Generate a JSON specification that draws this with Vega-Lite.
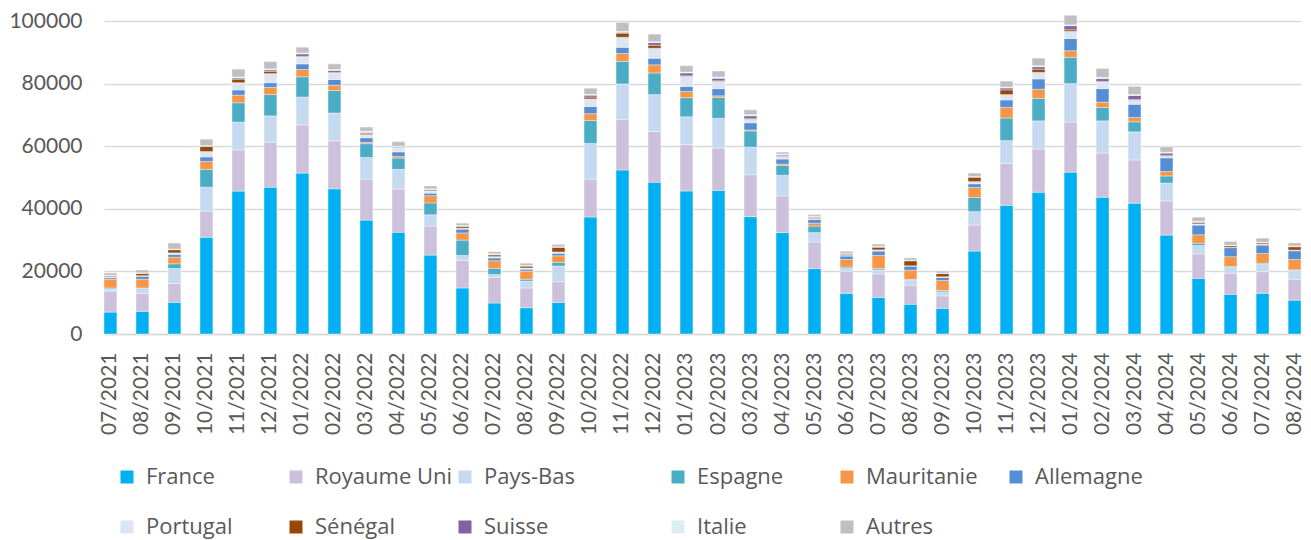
{
  "$schema": "https://vega.github.io/schema/vega-lite/v6.json",
  "width": 1197,
  "height": 313,
  "autosize": "none",
  "padding": {"left": 104, "top": 21, "right": 10, "bottom": 206},
  "background": "white",
  "config": {
    "view": {"stroke": null},
    "font": "Lato",
    "text": {"font": "Lato"}
  },
  "datasets": {
    "rangs": [
      {"pays":"France","rang":1},{"pays":"Royaume Uni","rang":2},{"pays":"Pays-Bas","rang":3},{"pays":"Espagne","rang":4},
      {"pays":"Mauritanie","rang":5},{"pays":"Allemagne","rang":6},{"pays":"Portugal","rang":7},{"pays":"Sénégal","rang":8},
      {"pays":"Suisse","rang":9},{"pays":"Italie","rang":10},{"pays":"Autres","rang":11}
    ]
  },
  "data": {
    "values": [
      {"mois":"07/2021","France":7000,"Royaume Uni":6700,"Pays-Bas":700,"Espagne":300,"Mauritanie":2800,"Allemagne":500,"Portugal":300,"Sénégal":300,"Suisse":100,"Italie":100,"Autres":700},
      {"mois":"08/2021","France":7250,"Royaume Uni":5750,"Pays-Bas":1500,"Espagne":200,"Mauritanie":2800,"Allemagne":950,"Portugal":200,"Sénégal":700,"Suisse":100,"Italie":100,"Autres":870},
      {"mois":"09/2021","France":10130,"Royaume Uni":6000,"Pays-Bas":4800,"Espagne":1500,"Mauritanie":2100,"Allemagne":900,"Portugal":500,"Sénégal":1000,"Suisse":100,"Italie":100,"Autres":1900},
      {"mois":"10/2021","France":30900,"Royaume Uni":8350,"Pays-Bas":7650,"Espagne":5700,"Mauritanie":2500,"Allemagne":1500,"Portugal":1700,"Sénégal":1600,"Suisse":200,"Italie":100,"Autres":2000},
      {"mois":"11/2021","France":45650,"Royaume Uni":13150,"Pays-Bas":8900,"Espagne":6200,"Mauritanie":2400,"Allemagne":1700,"Portugal":2300,"Sénégal":1100,"Suisse":400,"Italie":300,"Autres":2500},
      {"mois":"12/2021","France":46900,"Royaume Uni":14400,"Pays-Bas":8400,"Espagne":6800,"Mauritanie":2300,"Allemagne":1500,"Portugal":2900,"Sénégal":700,"Suisse":500,"Italie":300,"Autres":2300},
      {"mois":"01/2022","France":51400,"Royaume Uni":15400,"Pays-Bas":8900,"Espagne":6500,"Mauritanie":2300,"Allemagne":1800,"Portugal":2200,"Sénégal":200,"Suisse":800,"Italie":300,"Autres":1800},
      {"mois":"02/2022","France":46400,"Royaume Uni":15300,"Pays-Bas":8900,"Espagne":7200,"Mauritanie":1700,"Allemagne":1800,"Portugal":2100,"Sénégal":200,"Suisse":600,"Italie":300,"Autres":1800},
      {"mois":"03/2022","France":36400,"Royaume Uni":13100,"Pays-Bas":6900,"Espagne":4400,"Mauritanie":400,"Allemagne":1500,"Portugal":1000,"Sénégal":300,"Suisse":400,"Italie":400,"Autres":1300},
      {"mois":"04/2022","France":32500,"Royaume Uni":13800,"Pays-Bas":6300,"Espagne":3600,"Mauritanie":500,"Allemagne":1500,"Portugal":1200,"Sénégal":200,"Suisse":200,"Italie":200,"Autres":1400},
      {"mois":"05/2022","France":25200,"Royaume Uni":9300,"Pays-Bas":3600,"Espagne":3800,"Mauritanie":2300,"Allemagne":800,"Portugal":700,"Sénégal":300,"Suisse":200,"Italie":200,"Autres":900},
      {"mois":"06/2022","France":14700,"Royaume Uni":8800,"Pays-Bas":1600,"Espagne":4900,"Mauritanie":2300,"Allemagne":1200,"Portugal":300,"Sénégal":500,"Suisse":200,"Italie":200,"Autres":700},
      {"mois":"07/2022","France":9900,"Royaume Uni":8200,"Pays-Bas":900,"Espagne":2000,"Mauritanie":2400,"Allemagne":900,"Portugal":500,"Sénégal":500,"Suisse":100,"Italie":200,"Autres":700},
      {"mois":"08/2022","France":8400,"Royaume Uni":6300,"Pays-Bas":2200,"Espagne":600,"Mauritanie":2600,"Allemagne":600,"Portugal":400,"Sénégal":600,"Suisse":100,"Italie":100,"Autres":700},
      {"mois":"09/2022","France":10100,"Royaume Uni":6600,"Pays-Bas":5000,"Espagne":1200,"Mauritanie":2100,"Allemagne":800,"Portugal":400,"Sénégal":1500,"Suisse":100,"Italie":100,"Autres":700},
      {"mois":"10/2022","France":37400,"Royaume Uni":12100,"Pays-Bas":11400,"Espagne":7300,"Mauritanie":2200,"Allemagne":2300,"Portugal":2400,"Sénégal":600,"Suisse":600,"Italie":300,"Autres":1900},
      {"mois":"11/2022","France":52400,"Royaume Uni":16100,"Pays-Bas":11400,"Espagne":7200,"Mauritanie":2500,"Allemagne":2000,"Portugal":3200,"Sénégal":1300,"Suisse":300,"Italie":300,"Autres":2800},
      {"mois":"12/2022","France":48500,"Royaume Uni":16200,"Pays-Bas":11800,"Espagne":6900,"Mauritanie":2600,"Allemagne":2100,"Portugal":3200,"Sénégal":900,"Suisse":900,"Italie":300,"Autres":2400},
      {"mois":"01/2023","France":45700,"Royaume Uni":14800,"Pays-Bas":8900,"Espagne":6100,"Mauritanie":2000,"Allemagne":1600,"Portugal":3200,"Sénégal":200,"Suisse":900,"Italie":300,"Autres":2000},
      {"mois":"02/2023","France":45900,"Royaume Uni":13500,"Pays-Bas":9500,"Espagne":6700,"Mauritanie":500,"Allemagne":2300,"Portugal":2300,"Sénégal":200,"Suisse":800,"Italie":400,"Autres":1900},
      {"mois":"03/2023","France":37500,"Royaume Uni":13400,"Pays-Bas":8800,"Espagne":5200,"Mauritanie":300,"Allemagne":2300,"Portugal":1100,"Sénégal":200,"Suisse":900,"Italie":400,"Autres":1500},
      {"mois":"04/2023","France":32400,"Royaume Uni":11700,"Pays-Bas":6600,"Espagne":3200,"Mauritanie":400,"Allemagne":1600,"Portugal":800,"Sénégal":200,"Suisse":300,"Italie":300,"Autres":600},
      {"mois":"05/2023","France":20900,"Royaume Uni":8500,"Pays-Bas":3000,"Espagne":2100,"Mauritanie":900,"Allemagne":1200,"Portugal":300,"Sénégal":300,"Suisse":200,"Italie":200,"Autres":500},
      {"mois":"06/2023","France":13000,"Royaume Uni":7100,"Pays-Bas":900,"Espagne":400,"Mauritanie":2400,"Allemagne":1100,"Portugal":200,"Sénégal":400,"Suisse":100,"Italie":100,"Autres":700},
      {"mois":"07/2023","France":11700,"Royaume Uni":7500,"Pays-Bas":1300,"Espagne":400,"Mauritanie":4200,"Allemagne":1400,"Portugal":400,"Sénégal":800,"Suisse":200,"Italie":100,"Autres":700},
      {"mois":"08/2023","France":9500,"Royaume Uni":6100,"Pays-Bas":1700,"Espagne":200,"Mauritanie":2900,"Allemagne":1300,"Portugal":100,"Sénégal":1600,"Suisse":100,"Italie":100,"Autres":700},
      {"mois":"09/2023","France":8200,"Royaume Uni":4000,"Pays-Bas":1300,"Espagne":400,"Mauritanie":3200,"Allemagne":1000,"Portugal":200,"Sénégal":1000,"Suisse":100,"Italie":100,"Autres":600},
      {"mois":"10/2023","France":26500,"Royaume Uni":8300,"Pays-Bas":4300,"Espagne":4500,"Mauritanie":3200,"Allemagne":1200,"Portugal":700,"Sénégal":1400,"Suisse":100,"Italie":100,"Autres":1100},
      {"mois":"11/2023","France":41100,"Royaume Uni":13400,"Pays-Bas":7300,"Espagne":7200,"Mauritanie":3400,"Allemagne":2400,"Portugal":1700,"Sénégal":1500,"Suisse":600,"Italie":300,"Autres":1900},
      {"mois":"12/2023","France":45300,"Royaume Uni":13800,"Pays-Bas":9000,"Espagne":7200,"Mauritanie":2900,"Allemagne":3300,"Portugal":2100,"Sénégal":1000,"Suisse":800,"Italie":300,"Autres":2400},
      {"mois":"01/2024","France":51700,"Royaume Uni":16000,"Pays-Bas":12300,"Espagne":8400,"Mauritanie":2100,"Allemagne":3900,"Portugal":2300,"Sénégal":500,"Suisse":1300,"Italie":300,"Autres":3000},
      {"mois":"02/2024","France":43700,"Royaume Uni":14100,"Pays-Bas":10300,"Espagne":4300,"Mauritanie":1700,"Allemagne":4300,"Portugal":2100,"Sénégal":200,"Suisse":900,"Italie":400,"Autres":2800},
      {"mois":"03/2024","France":41800,"Royaume Uni":13800,"Pays-Bas":9000,"Espagne":3200,"Mauritanie":1400,"Allemagne":4200,"Portugal":1300,"Sénégal":200,"Suisse":1300,"Italie":300,"Autres":2600},
      {"mois":"04/2024","France":31600,"Royaume Uni":10900,"Pays-Bas":5700,"Espagne":2300,"Mauritanie":1400,"Allemagne":4400,"Portugal":500,"Sénégal":300,"Suisse":700,"Italie":300,"Autres":1700},
      {"mois":"05/2024","France":17800,"Royaume Uni":7800,"Pays-Bas":2700,"Espagne":700,"Mauritanie":2700,"Allemagne":3100,"Portugal":400,"Sénégal":400,"Suisse":200,"Italie":200,"Autres":1300},
      {"mois":"06/2024","France":12700,"Royaume Uni":6700,"Pays-Bas":1900,"Espagne":300,"Mauritanie":3100,"Allemagne":2900,"Portugal":100,"Sénégal":500,"Suisse":100,"Italie":100,"Autres":1100},
      {"mois":"07/2024","France":13000,"Royaume Uni":6900,"Pays-Bas":2400,"Espagne":300,"Mauritanie":3100,"Allemagne":2700,"Portugal":300,"Sénégal":400,"Suisse":100,"Italie":100,"Autres":1300},
      {"mois":"08/2024","France":10800,"Royaume Uni":6700,"Pays-Bas":2800,"Espagne":200,"Mauritanie":3300,"Allemagne":2800,"Portugal":200,"Sénégal":1100,"Suisse":100,"Italie":100,"Autres":1000}
    ]
  },
  "transform": [
    {"fold": ["France","Royaume Uni","Pays-Bas","Espagne","Mauritanie","Allemagne","Portugal","Sénégal","Suisse","Italie","Autres"], "as": ["pays","valeur"]},
    {"lookup": "pays", "from": {"data": {"name": "rangs"}, "key": "pays", "fields": ["rang"]}}
  ],
  "encoding": {
    "x": {
      "field": "mois", "type": "ordinal", "sort": null,
      "scale": {"paddingInner": 0.6, "paddingOuter": 0.0},
      "axis": {
        "title": null, "labelAngle": -90, "labelFontSize": 21, "labelColor": "#595959",
        "labelPadding": 18, "ticks": false, "domain": true, "domainColor": "#D9D9D9", "domainWidth": 1.5,
        "labelFont": "Lato"
      }
    },
    "y": {
      "field": "valeur", "type": "quantitative", "stack": "zero",
      "scale": {"domain": [0, 100000], "nice": false},
      "axis": {
        "title": null, "values": [0,20000,40000,60000,80000,100000], "format": "d",
        "labelFontSize": 21, "labelColor": "#595959", "labelPadding": 22,
        "ticks": false, "domain": false, "gridColor": "#D9D9D9", "gridWidth": 1.5,
        "labelFont": "Lato"
      }
    },
    "order": {"field": "rang", "type": "quantitative", "sort": "ascending"}
  },
  "layer": [
    {
      "mark": {"type": "bar", "stroke": "white", "strokeWidth": 0.5, "strokeOpacity": 0.8},
      "encoding": {
        "color": {
          "field": "pays", "type": "nominal",
          "scale": {
            "domain": ["France","Royaume Uni","Pays-Bas","Espagne","Mauritanie","Allemagne","Portugal","Sénégal","Suisse","Italie","Autres"],
            "range": ["#00B0F0","#CCC0DA","#C5D9F1","#4BACC6","#F79646","#558ED5","#DCE6F2","#974706","#8064A2","#DAEEF3","#BFBFBF"]
          },
          "legend": {
            "title": null, "orient": "none", "legendX": 12, "legendY": 445,
            "values": ["France","Royaume Uni","Pays-Bas","Portugal","Sénégal","Suisse"],
            "direction": "horizontal", "columns": 3, "gridAlign": "all",
            "columnPadding": 1, "rowPadding": 28,
            "symbolType": "square", "symbolSize": 169, "symbolStrokeWidth": 0,
            "labelFontSize": 22, "labelColor": "#595959", "labelOffset": 8,
            "labelFont": "Open Sans", "labelLimit": 300
          }
        }
      }
    },
    {
      "mark": {"type": "bar", "stroke": "white", "strokeWidth": 0.5, "strokeOpacity": 0.8},
      "encoding": {
        "color": {
          "field": "pays", "type": "nominal",
          "scale": {
            "domain": ["France","Royaume Uni","Pays-Bas","Espagne","Mauritanie","Allemagne","Portugal","Sénégal","Suisse","Italie","Autres"],
            "range": ["#00B0F0","#CCC0DA","#C5D9F1","#4BACC6","#F79646","#558ED5","#DCE6F2","#974706","#8064A2","#DAEEF3","#BFBFBF"]
          },
          "legend": {
            "title": null, "orient": "none", "legendX": 563, "legendY": 445,
            "values": ["Espagne","Mauritanie","Allemagne","Italie","Autres"],
            "direction": "horizontal", "columns": 3, "gridAlign": "all",
            "columnPadding": 27, "rowPadding": 28,
            "symbolType": "square", "symbolSize": 169, "symbolStrokeWidth": 0,
            "labelFontSize": 22, "labelColor": "#595959", "labelOffset": 8,
            "labelFont": "Open Sans", "labelLimit": 300
          }
        }
      }
    }
  ],
  "resolve": {"scale": {"color": "independent"}}
}
